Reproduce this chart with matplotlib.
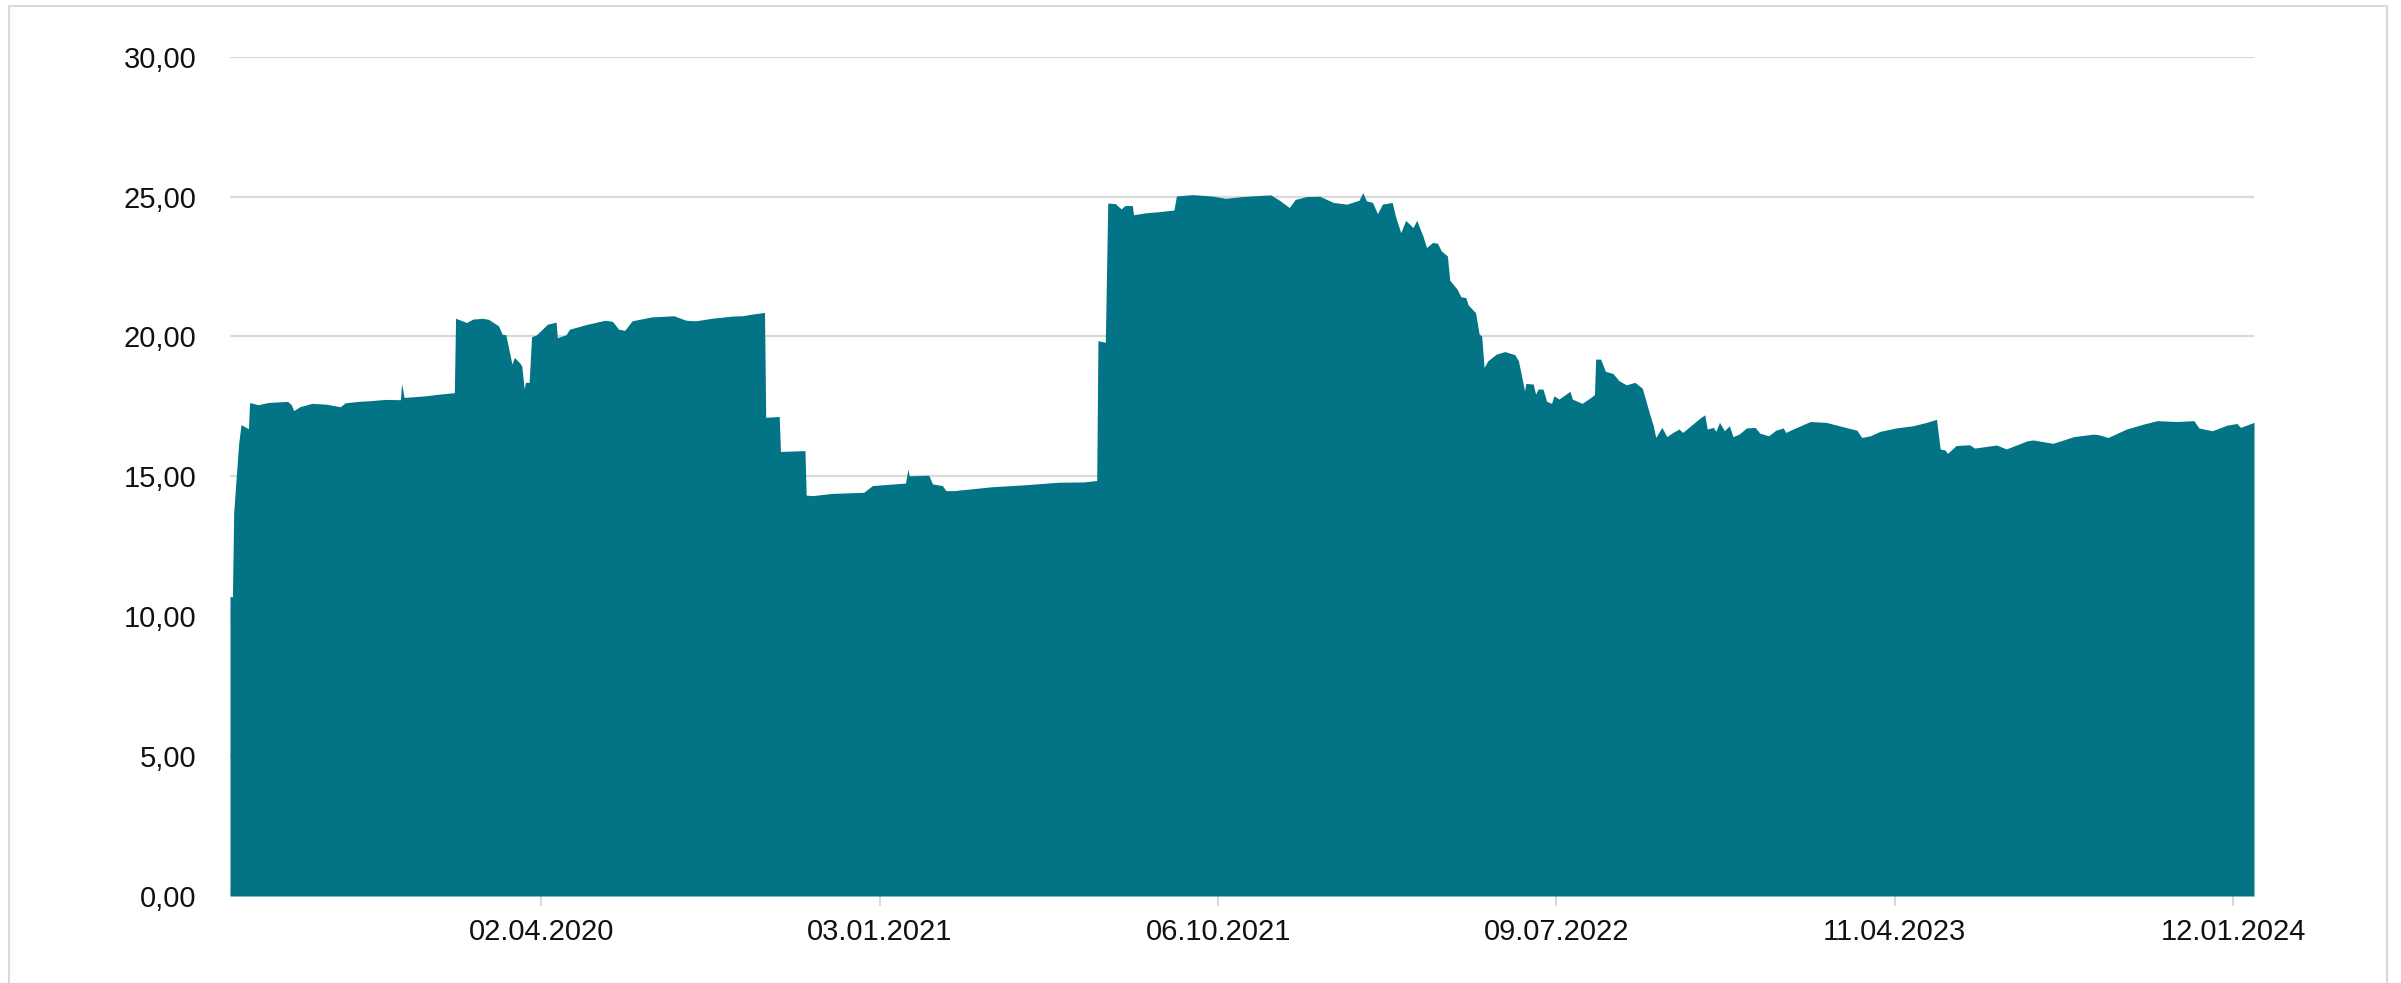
import matplotlib
matplotlib.use("Agg")
import matplotlib.pyplot as plt
import matplotlib.dates as mdates
from matplotlib.patches import Rectangle
import pandas as pd

plt.rcParams['font.family'] = ['Liberation Sans', 'DejaVu Sans']

# price series
dates = [
    "2019-07-23", "2019-07-25", "2019-07-26", "2019-07-30", "2019-08-01", "2019-08-07",
    "2019-08-08", "2019-08-15", "2019-08-23", "2019-09-08", "2019-09-11", "2019-09-13",
    "2019-09-18", "2019-09-28", "2019-10-09", "2019-10-21", "2019-10-25", "2019-11-05",
    "2019-11-13", "2019-11-27", "2019-12-09", "2019-12-10", "2019-12-12", "2019-12-30",
    "2020-01-10", "2020-01-22", "2020-01-23", "2020-02-01", "2020-02-06", "2020-02-14",
    "2020-02-19", "2020-02-27", "2020-03-01", "2020-03-04", "2020-03-09", "2020-03-11",
    "2020-03-15", "2020-03-17", "2020-03-19", "2020-03-20", "2020-03-23", "2020-03-25",
    "2020-03-29", "2020-04-07", "2020-04-14", "2020-04-15", "2020-04-22", "2020-04-25",
    "2020-05-08", "2020-05-24", "2020-05-30", "2020-06-04", "2020-06-09", "2020-06-15",
    "2020-07-01", "2020-07-19", "2020-07-29", "2020-08-06", "2020-08-19", "2020-09-05",
    "2020-09-13", "2020-09-21", "2020-10-01", "2020-10-02", "2020-10-13", "2020-10-14",
    "2020-11-03", "2020-11-04", "2020-11-09", "2020-11-25", "2020-12-21", "2020-12-28",
    "2021-01-24", "2021-01-26", "2021-01-27", "2021-02-12", "2021-02-15", "2021-02-23",
    "2021-02-26", "2021-03-05", "2021-03-09", "2021-04-05", "2021-05-02", "2021-05-29",
    "2021-06-18", "2021-06-29", "2021-06-30", "2021-07-06", "2021-07-08", "2021-07-14",
    "2021-07-19", "2021-07-22", "2021-07-28", "2021-07-29", "2021-08-08", "2021-08-19",
    "2021-08-31", "2021-09-02", "2021-09-15", "2021-10-01", "2021-10-12", "2021-10-26",
    "2021-11-09", "2021-11-18", "2021-11-25", "2021-12-03", "2021-12-08", "2021-12-17",
    "2021-12-28", "2022-01-08", "2022-01-19", "2022-01-29", "2022-02-01", "2022-02-04",
    "2022-02-09", "2022-02-13", "2022-02-17", "2022-02-25", "2022-02-28", "2022-03-04",
    "2022-03-08", "2022-03-14", "2022-03-17", "2022-03-22", "2022-03-25", "2022-03-30",
    "2022-04-03", "2022-04-06", "2022-04-11", "2022-04-13", "2022-04-19", "2022-04-22",
    "2022-04-26", "2022-04-28", "2022-05-02", "2022-05-04", "2022-05-07", "2022-05-09",
    "2022-05-11", "2022-05-14", "2022-05-21", "2022-05-28", "2022-06-05", "2022-06-08",
    "2022-06-13", "2022-06-14", "2022-06-20", "2022-06-22", "2022-06-24", "2022-06-28",
    "2022-07-01", "2022-07-05", "2022-07-07", "2022-07-11", "2022-07-20", "2022-07-22",
    "2022-07-30", "2022-08-06", "2022-08-09", "2022-08-10", "2022-08-14", "2022-08-18",
    "2022-08-24", "2022-08-29", "2022-09-04", "2022-09-11", "2022-09-17", "2022-09-20",
    "2022-09-23", "2022-09-26", "2022-09-28", "2022-10-03", "2022-10-07", "2022-10-12",
    "2022-10-17", "2022-10-20", "2022-11-03", "2022-11-07", "2022-11-09", "2022-11-14",
    "2022-11-16", "2022-11-19", "2022-11-23", "2022-11-27", "2022-11-30", "2022-12-05",
    "2022-12-11", "2022-12-18", "2022-12-22", "2022-12-29", "2023-01-04", "2023-01-10",
    "2023-01-12", "2023-01-18", "2023-02-01", "2023-02-14", "2023-02-28", "2023-03-11",
    "2023-03-15", "2023-03-22", "2023-03-30", "2023-04-12", "2023-04-26", "2023-05-07",
    "2023-05-15", "2023-05-18", "2023-05-22", "2023-05-24", "2023-05-31", "2023-06-11",
    "2023-06-15", "2023-07-03", "2023-07-11", "2023-07-28", "2023-08-02", "2023-08-18",
    "2023-09-04", "2023-09-20", "2023-09-25", "2023-10-02", "2023-10-17", "2023-10-31",
    "2023-11-11", "2023-11-27", "2023-12-11", "2023-12-15", "2023-12-26", "2024-01-07",
    "2024-01-15", "2024-01-18", "2024-01-29",
]
values = [
    10.70, 10.70, 13.70, 16.15, 16.85, 16.70,
    17.64, 17.56, 17.64, 17.68, 17.56, 17.35,
    17.49, 17.61, 17.58, 17.49, 17.63, 17.68,
    17.70, 17.75, 17.74, 18.32, 17.82, 17.88,
    17.94, 17.99, 20.65, 20.50, 20.62, 20.65,
    20.61, 20.38, 20.08, 20.06, 19.01, 19.25,
    19.07, 18.95, 18.12, 18.36, 18.36, 19.99,
    20.06, 20.44, 20.51, 19.96, 20.06, 20.26,
    20.42, 20.58, 20.54, 20.26, 20.22, 20.56,
    20.70, 20.74, 20.58, 20.56, 20.65, 20.73,
    20.74, 20.80, 20.86, 17.11, 17.14, 15.89,
    15.92, 14.33, 14.31, 14.39, 14.43, 14.67,
    14.76, 15.26, 15.02, 15.04, 14.73, 14.67,
    14.49, 14.49, 14.51, 14.63, 14.70, 14.79,
    14.80, 14.85, 19.85, 19.79, 24.77, 24.75,
    24.56, 24.68, 24.68, 24.35, 24.42, 24.46,
    24.52, 25.02, 25.07, 25.02, 24.94, 25.00,
    25.04, 25.06, 24.87, 24.61, 24.90, 25.00,
    25.01, 24.79, 24.73, 24.87, 25.14, 24.85,
    24.79, 24.39, 24.73, 24.79, 24.25, 23.71,
    24.15, 23.89, 24.15, 23.60, 23.18, 23.36,
    23.33, 23.06, 22.88, 22.01, 21.69, 21.42,
    21.39, 21.13, 20.94, 20.85, 20.08, 20.02,
    18.89, 19.13, 19.37, 19.46, 19.35, 19.13,
    18.06, 18.32, 18.30, 17.94, 18.12, 18.12,
    17.68, 17.61, 17.88, 17.76, 18.04, 17.76,
    17.61, 17.82, 17.92, 19.19, 19.19, 18.75,
    18.68, 18.42, 18.27, 18.36, 18.15, 17.70,
    17.23, 16.81, 16.39, 16.75, 16.42, 16.57,
    16.69, 16.57, 17.08, 17.20, 16.69, 16.75,
    16.61, 16.93, 16.63, 16.81, 16.42, 16.51,
    16.73, 16.75, 16.54, 16.45, 16.65, 16.73,
    16.57, 16.69, 16.96, 16.93, 16.77, 16.65,
    16.39, 16.45, 16.61, 16.73, 16.81, 16.93,
    17.04, 15.98, 15.94, 15.82, 16.10, 16.13,
    16.01, 16.12, 15.98, 16.27, 16.30, 16.18,
    16.42, 16.51, 16.48, 16.39, 16.69, 16.87,
    16.99, 16.96, 16.99, 16.73, 16.63, 16.83,
    16.89, 16.75, 16.93,
]

tick_dates = ["2020-04-02", "2021-01-03", "2021-10-06", "2022-07-09", "2023-04-11", "2024-01-12"]
y_ticks = [0, 5, 10, 15, 20, 25, 30]

fill_color = "#037386"
grid_color = "#d9d9d9"

x = pd.to_datetime(dates)
W, H = 2401, 983

fig = plt.figure(figsize=(W / 100, H / 100), dpi=100)
ax = fig.add_axes([230 / W, 1 - 896 / H, (2254 - 230) / W, (896 - 56.7) / H])

ax.fill_between(x, values, 0, color=fill_color, linewidth=0, zorder=2)

ax.set_xlim(x[0], x[-1])
ax.set_ylim(0, 30)

ax.set_yticks(y_ticks)
ax.set_yticklabels([f"{v:.2f}".replace(".", ",") for v in y_ticks])
ax.set_xticks(pd.to_datetime(tick_dates))
ax.xaxis.set_major_formatter(mdates.DateFormatter("%d.%m.%Y"))

ax.grid(axis="y", color=grid_color, linewidth=1.6)
ax.grid(axis="x", visible=False)
ax.set_axisbelow(True)

for s in ax.spines.values():
    s.set_visible(False)

ax.tick_params(axis="y", length=0, pad=24, labelsize=21, labelcolor="#111111")
ax.tick_params(axis="x", length=7, width=1.5, color=grid_color, pad=9,
               labelsize=21, labelcolor="#111111")

# light frame round the whole picture
fig.patches.append(Rectangle((9 / W, -0.02), (2387 - 9) / W, 1 - 6 / H + 0.02,
                             transform=fig.transFigure, fill=False,
                             edgecolor=grid_color, linewidth=1.5))

fig.savefig("out.png", dpi=100, facecolor="white")
